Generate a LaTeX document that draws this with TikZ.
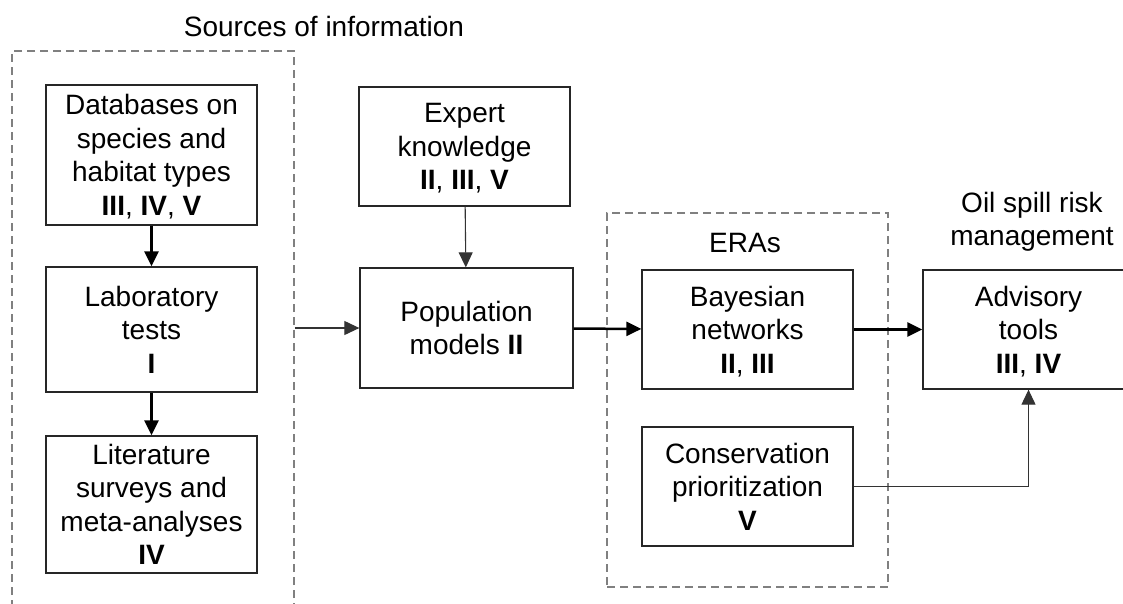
\documentclass[tikz,border=0pt]{standalone}
\usepackage{fontspec}
\setmainfont{Liberation Sans}
\usepackage{tikz}
\usetikzlibrary{arrows.meta, positioning}

\tikzset{
  box/.style={draw=black!85, line width=1.3pt, minimum width=211pt, align=center,
    font=\fontsize{28}{33.5}\selectfont, text depth=-22pt, inner sep=0pt},
  grp/.style={draw=gray, line width=1.8pt, dash pattern=on 8pt off 5pt, inner sep=0pt},
  lbl/.style={font=\fontsize{28}{33.5}\selectfont, align=center},
  flow/.style={line width=2.5pt, -{Triangle[length=15pt,width=14pt]}},
  feed/.style={line width=1.1pt, draw=black!80, -{Triangle[length=15pt,width=14pt]}}
}

\begin{document}
\begin{tikzpicture}[x=1pt, y=-1pt]
  \useasboundingbox (0,0) rectangle (1123,603);
  \clip (0,0) rectangle (1123,603);
  % Groups
  \node[grp, minimum width=282pt, minimum height=590pt] (src) at (153,346) {};
  \node[grp, minimum width=281pt, minimum height=374pt] (era) at (747.5,400) {};
  % Group titles
  \node[lbl] (srct) at (324,26) {Sources of information};
  \node[lbl] (erat) at (745,243) {ERAs};
  \node[lbl] (oilt) at (1032,222) {Oil spill risk\\management};
  % Sources of information
  \node[box, minimum height=140pt] (db) at (151.5,155)
    {Databases on\\species and\\habitat types\\\textbf{III}, \textbf{IV}, \textbf{V}};
  \node[box, minimum height=125pt] (lab) at (151.5,329.5)
    {Laboratory\\tests\\\textbf{I}};
  \node[box, minimum height=137pt] (lit) at (151.5,504.5)
    {Literature\\surveys and\\meta-analyses\\\textbf{IV}};
  % Models
  \node[box, minimum height=119pt] (exp) at (464.5,146.5)
    {Expert\\knowledge\\\textbf{II}, \textbf{III}, \textbf{V}};
  \node[box, minimum width=213pt, minimum height=120pt] (pop) at (466.5,328)
    {Population\\models \textbf{II}};
  % ERAs
  \node[box, minimum height=119pt] (bay) at (747.5,329.5)
    {Bayesian\\networks\\\textbf{II}, \textbf{III}};
  \node[box, minimum height=119pt] (cons) at (747.5,486.5)
    {Conservation\\prioritization\\\textbf{V}};
  % Management
  \node[box, minimum height=119pt] (adv) at (1028.5,329.5)
    {Advisory\\tools\\\textbf{III}, \textbf{IV}};
  % Connectors
  \draw[flow] (db) -- (lab);
  \draw[flow] (lab) -- (lit);
  \draw[feed] (src.east |- pop.west) -- (pop.west);
  \draw[feed] (exp) -- (pop);
  \draw[flow] (pop) -- (bay);
  \draw[flow] (bay) -- (adv);
  \draw[feed] (cons.east) -| (adv.south);
\end{tikzpicture}
\end{document}
